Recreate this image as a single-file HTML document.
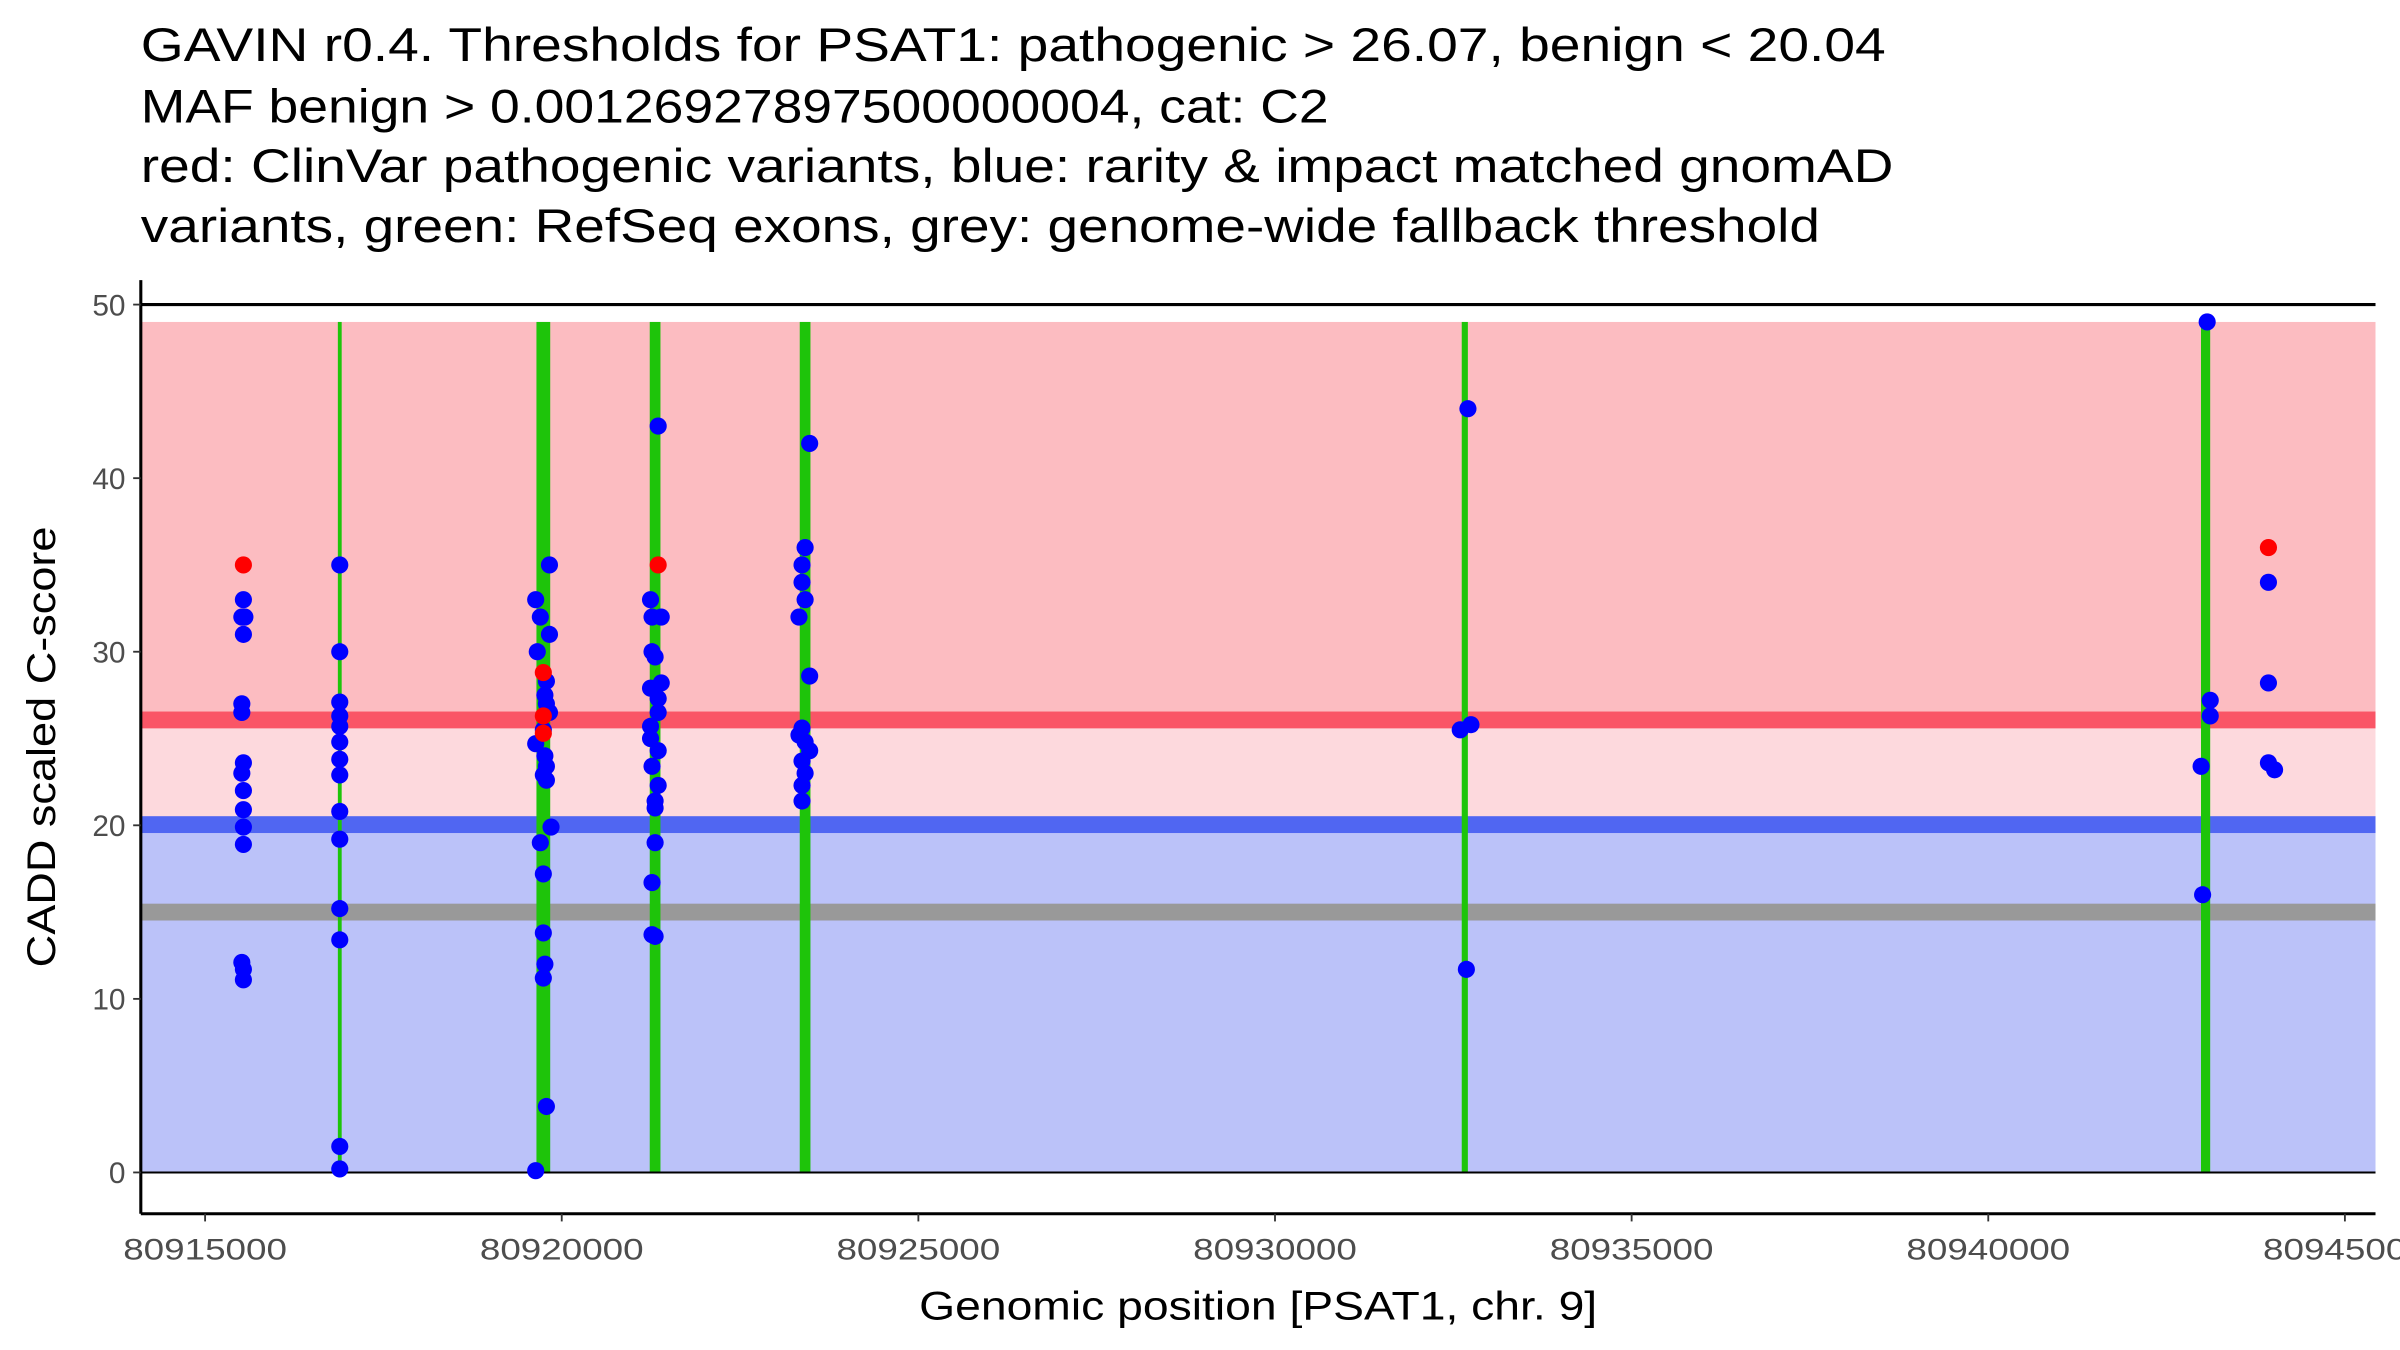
<!DOCTYPE html>
<html><head><meta charset="utf-8"><style>
html,body{margin:0;padding:0;background:#fff}
svg{display:block}
text{font-family:"Liberation Sans",sans-serif}
</style></head><body>
<svg id="chart" width="2400" height="1350" viewBox="0 0 1568 882" xmlns="http://www.w3.org/2000/svg">
<g font-size="31" fill="#000">
<text x="92" y="40" textLength="1140" lengthAdjust="spacingAndGlyphs">GAVIN r0.4. Thresholds for PSAT1: pathogenic &gt; 26.07, benign &lt; 20.04</text>
<text x="92" y="80" textLength="776" lengthAdjust="spacingAndGlyphs">MAF benign &gt; 0.00126927897500000004, cat: C2</text>
<text x="92" y="119" textLength="1145" lengthAdjust="spacingAndGlyphs">red: ClinVar pathogenic variants, blue: rarity &amp; impact matched gnomAD</text>
<text x="92" y="158" textLength="1097" lengthAdjust="spacingAndGlyphs">variants, green: RefSeq exons, grey: genome-wide fallback threshold</text>
</g>
<g id="plot"></g>
</svg>
<script>
const yTicks=[0,10,20,30,40,50];
const xTicks=[80915000,80920000,80925000,80930000,80935000,80940000,80945000];
const pathThr=26.07, benThr=20.04, fallback=15, maxY=49;
const exonPos=[80916888,80919742,80921309,80923412,80932661,80943047];
const exonWidth=[2.5,9,7,7,4,6];
const redPos=[80915537,80919742,80919742,80919742,80921352,80943928];
const redVal=[35,28.8,26.3,25.3,35,36];
const bluePos=[80915537,80915515,80915558,80915537,80915515,80915515,80915537,80915515,80915537,80915537,80915537,80915537,80915515,80915537,80915537,
80916888,80916888,80916888,80916888,80916888,80916888,80916888,80916888,80916888,80916888,80916888,80916888,80916888,80916888,
80919635,80919700,80919657,80919828,80919828,80919785,80919764,80919785,80919828,80919742,80919635,80919764,80919785,80919742,80919785,80919850,80919700,80919742,80919742,80919764,80919742,80919785,80919635,
80921352,80921245,80921266,80921395,80921266,80921309,80921395,80921245,80921352,80921352,80921245,80921245,80921352,80921266,80921352,80921309,80921309,80921309,80921266,80921266,80921309,
80923476,80923412,80923369,80923369,80923412,80923326,80923476,80923369,80923326,80923412,80923476,80923369,80923412,80923369,80923369,
80932705,80932747,80932597,80932683,
80943069,80943112,80943112,80942984,80943005,
80943928,80943928,80943928,80944014];
const blueVal=[33,32,32,31,27,26.5,23.6,23,22,20.9,19.9,18.9,12.1,11.7,11.1,
35,30,27.1,26.3,25.7,24.8,23.8,22.9,20.8,19.2,15.2,13.4,1.5,0.2,
33,32,30,35,31,28.3,27.5,27,26.5,25.5,24.7,24,23.4,22.9,22.6,19.9,19,17.2,13.8,12,11.2,3.8,0.1,
43,33,32,32,30,29.7,28.2,27.9,27.3,26.5,25.7,25,24.3,23.4,22.3,21.4,21,19,16.7,13.7,13.6,
42,36,35,34,33,32,28.6,25.6,25.2,24.8,24.3,23.7,23,22.3,21.4,
44,25.8,25.5,11.7,
49,27.2,26.3,23.4,16,
34,28.2,23.6,23.2];

const NS="http://www.w3.org/2000/svg";
const L=92,R=1552,T=183,B=793;
function sx(v){return 134+(v-80915000)*0.0466;}
function sy(v){return 766-v*11.34;}
const g=document.getElementById('plot');
function mk(tag,attrs,name,inter){const e=document.createElementNS(NS,tag);for(const k in attrs)e.setAttribute(k,attrs[k]);


g.appendChild(e);return e;}
mk('rect',{x:L,y:sy(maxY),width:R-L,height:sy(pathThr)-sy(maxY),fill:'#fcbcc1'},'pathogenic-region');
mk('rect',{x:L,y:sy(pathThr),width:R-L,height:sy(benThr)-sy(pathThr),fill:'#fdd9dd'},'uncertain-region');
mk('rect',{x:L,y:sy(benThr),width:R-L,height:sy(0)-sy(benThr),fill:'#bbc2f9'},'benign-region');
mk('rect',{x:L,y:sy(pathThr)-5.5,width:R-L,height:11,fill:'#fa5566'},'pathogenic-threshold-line');
mk('rect',{x:L,y:sy(benThr)-5.5,width:R-L,height:11,fill:'#5066f2'},'benign-threshold-line');
mk('rect',{x:L,y:sy(fallback)-5.5,width:R-L,height:11,fill:'#999999'},'fallback-threshold-line');
exonPos.forEach((p,i)=>{mk('rect',{x:sx(p)-exonWidth[i]/2,y:sy(maxY),width:exonWidth[i],height:sy(0)-sy(maxY),fill:'#1ec40a'},'exon-'+(i+1));});
mk('line',{x1:L,x2:R,y1:sy(0),y2:sy(0),stroke:'#000','stroke-width':1.3},'hline-0');
mk('line',{x1:L,x2:R,y1:sy(50),y2:sy(50),stroke:'#000','stroke-width':2},'hline-50');
bluePos.forEach((p,i)=>{mk('circle',{cx:sx(p),cy:sy(blueVal[i]),r:5.6,fill:'#0000ff'},'gnomad-point');});
redPos.forEach((p,i)=>{mk('circle',{cx:sx(p),cy:sy(redVal[i]),r:5.6,fill:'#ff0000'},'clinvar-point');});
mk('line',{x1:L,x2:L,y1:T,y2:B,stroke:'#000','stroke-width':2},'y-axis-line');
mk('line',{x1:L,x2:R,y1:B,y2:B,stroke:'#000','stroke-width':2},'x-axis-line');
yTicks.forEach(v=>{mk('line',{x1:L-5,x2:L,y1:sy(v),y2:sy(v),stroke:'#333','stroke-width':1.2},'y-tick');
const t=mk('text',{x:L-10,y:sy(v)+7,'text-anchor':'end','font-size':19.5,fill:'#4d4d4d'},'y-tick-label');t.textContent=v;});
xTicks.forEach(v=>{mk('line',{x1:sx(v),x2:sx(v),y1:B,y2:B+5,stroke:'#333','stroke-width':1.2},'x-tick');
const t=mk('text',{x:sx(v),y:B+30,'text-anchor':'middle','font-size':19.5,fill:'#4d4d4d',textLength:107,lengthAdjust:'spacingAndGlyphs'},'x-tick-label');t.textContent=v;});
const xt=mk('text',{x:822,y:862,'text-anchor':'middle','font-size':26,fill:'#000',textLength:443,lengthAdjust:'spacingAndGlyphs'},'x-axis-title');xt.textContent='Genomic position [PSAT1, chr. 9]';
const yt=mk('text',{x:0,y:0,'text-anchor':'middle','font-size':26,fill:'#000',textLength:288,lengthAdjust:'spacingAndGlyphs',transform:'translate(36,488) rotate(-90)'},'y-axis-title');yt.textContent='CADD scaled C-score';
</script>
</body></html>
